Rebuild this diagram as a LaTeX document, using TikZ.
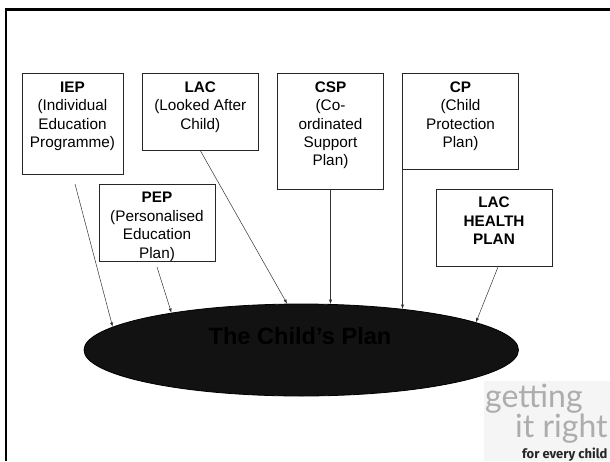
\documentclass[tikz,border=0pt]{standalone}
\usepackage{fontspec}
\usepackage{tikz}
\usetikzlibrary{shapes,arrows,positioning}
\setmainfont{Liberation Sans}
\newfontfamily\logofont{Lato}
\newfontfamily\logosub{Fira Sans}
\newcommand{\plantext}[3]{\parbox[t][#2][t]{#1}{\centering\rule{0pt}{18.8pt}#3}}

\begin{document}
\begin{tikzpicture}[
    x=1pt, y=-1pt,
    planbox/.style={rectangle, draw=black!85, line width=0.8pt, inner sep=0pt, outer sep=0pt, anchor=north west,
        font=\fontsize{15.3}{18.4}\selectfont},
    link/.style={-latex, line width=0.5pt, draw=black!80},
    logotext/.style={inner sep=0pt, anchor=base west, text=black!32, font=\fontsize{32}{32}\selectfont\logofont}
]
    \useasboundingbox (0,0) rectangle (610,461);

    % Page frame
    \draw[line width=2.6pt] (6,461) -- (6,9.5) -- (610,9.5);

    % Plans
    \node[planbox] (iep) at (22,73.5) {\plantext{101pt}{101pt}{\textbf{IEP}\\(Individual\\Education\\Programme)}};
    \node[planbox, right=19.5pt of iep.north east, anchor=north west] (lac)
        {\plantext{115.5pt}{77pt}{\textbf{LAC}\\(Looked After\\Child)}};
    \node[planbox, right=19.5pt of lac.north east, anchor=north west] (csp)
        {\plantext{106pt}{115.5pt}{\textbf{CSP}\\(Co-\\ordinated\\Support\\Plan)}};
    \node[planbox, right=19pt of csp.north east, anchor=north west] (cp)
        {\plantext{116pt}{96pt}{\textbf{CP}\\(Child\\Protection\\Plan)}};
    \node[planbox] (pep) at (99,184) {\plantext{116pt}{77.5pt}{\textbf{PEP}\\(Personalised\\Education\\Plan)}};
    \node[planbox] (health) at (436,189) {\plantext{116pt}{77pt}{\textbf{LAC\\HEALTH\\PLAN}}};

    % The plan they feed
    \node[ellipse, draw=black, fill=black!93, line width=0.8pt, inner sep=0pt,
        minimum width=434.5pt, minimum height=92pt] (plan) at (301.25,350) {};
    \node[font=\fontsize{23.6}{28}\selectfont\bfseries, inner sep=0pt] (plantitle) at (300,336) {The Child’s Plan};

    % Links
    \coordinate (iepstart) at (75,184);
    \coordinate (pepstart) at (157,267);
    \coordinate (healthstart) at (498,267);
    \draw[link] (iepstart) -- (plan.173.5);
    \draw[link] (pepstart) -- (plan.164);
    \draw[link] (lac.south) -- (plan.107.7);
    \draw[link] (csp.south) -- (csp.south |- plan.58);
    \draw[link] (cp.south west) -- (cp.south west |- plan.22.5);
    \draw[link] (healthstart) -- (plan.9.1);

    % Logo
    \node[rectangle, fill=black!4, inner sep=0pt, anchor=north west, minimum width=126pt, minimum height=80pt] (logo) at (484,381) {};
    \node[logotext] (getting) at (485,407) {getting};
    \node[logotext] (itright) at (515,437) {it right};
    \node[inner sep=0pt, anchor=base west, font=\fontsize{13}{13}\selectfont\logosub\bfseries, text=black!85] (everychild) at (522,458) {for every child};
\end{tikzpicture}
\end{document}
